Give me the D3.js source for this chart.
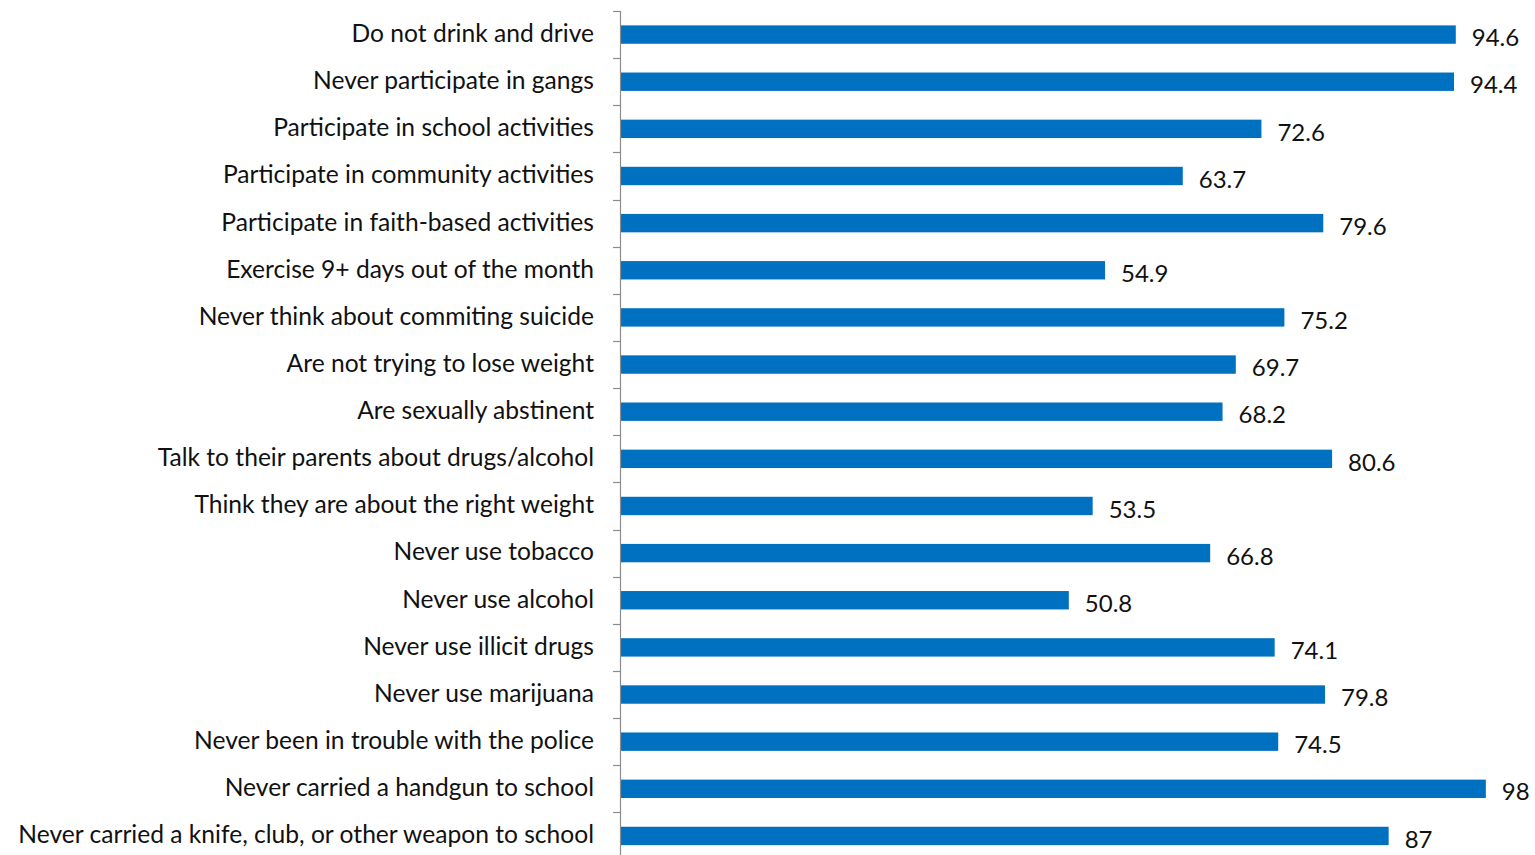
<!DOCTYPE html>
<html><head><meta charset="utf-8">
<script src="https://cdn.jsdelivr.net/npm/d3@7"></script>
<style>body{margin:0;background:#fff}svg{display:block}</style>
</head><body>
<script>
const categories = [
  "Do not drink and drive",
  "Never participate in gangs",
  "Participate in school activities",
  "Participate in community activities",
  "Participate in faith-based activities",
  "Exercise 9+ days out of the month",
  "Never think about commiting suicide",
  "Are not trying to lose weight",
  "Are sexually abstinent",
  "Talk to their parents about drugs/alcohol",
  "Think they are about the right weight",
  "Never use tobacco",
  "Never use alcohol",
  "Never use illicit drugs",
  "Never use marijuana",
  "Never been in trouble with the police",
  "Never carried a handgun to school",
  "Never carried a knife, club, or other weapon to school"
];
const values = [94.6, 94.4, 72.6, 63.7, 79.6, 54.9, 75.2, 69.7, 68.2, 80.6, 53.5, 66.8, 50.8, 74.1, 79.8, 74.5, 98, 87];

const W = 1535, H = 855;
const svg = d3.select("body").append("svg").attr("width", W).attr("height", H);
const font = "Lato, 'Open Sans', sans-serif";

const y = d3.scaleBand().domain(categories).range([11, 11 + 18 * 47.14]).paddingInner(0.61).paddingOuter(0.305);
const x = d3.scaleLinear().domain([0, 100]).range([620, 620 + 883.5]);
const step = y.step();

// bars
svg.append("g").selectAll("rect").data(values).join("rect")
  .attr("x", x(0) + 1)
  .attr("y", (d, i) => y(categories[i]))
  .attr("width", d => x(d) - x(0) - 1)
  .attr("height", y.bandwidth())
  .attr("fill", "#0070C0");

// axis
const axisG = svg.append("g");
axisG.append("line").attr("x1", 620.5).attr("x2", 620.5).attr("y1", 11).attr("y2", H)
  .attr("stroke", "#8c8c8c").attr("stroke-width", 1.2);
axisG.selectAll("line.t").data(categories).join("line").attr("class", "t")
  .attr("x1", 613).attr("x2", 620.5)
  .attr("y1", d => Math.round(y(d) - (step - y.bandwidth()) / 2) + 0.5)
  .attr("y2", d => Math.round(y(d) - (step - y.bandwidth()) / 2) + 0.5)
  .attr("stroke", "#8c8c8c").attr("stroke-width", 1.2);

// category labels
svg.append("g").selectAll("text").data(categories).join("text")
  .attr("x", 594)
  .attr("y", d => y(d) + y.bandwidth() / 2)
  .attr("dy", "0.3em")
  .attr("text-anchor", "end")
  .attr("font-family", font)
  .attr("font-size", 24.6)
  .attr("fill", "#111")
  .text(d => d);

// value labels
svg.append("g").selectAll("text").data(values).join("text")
  .attr("x", d => x(d) + 16)
  .attr("y", (d, i) => y(categories[i]) + y.bandwidth() / 2 + 4)
  .attr("dy", "0.32em")
  .attr("font-family", font)
  .attr("font-size", 24)
  .attr("fill", "#111")
  .text(d => d);
</script>
</body></html>
